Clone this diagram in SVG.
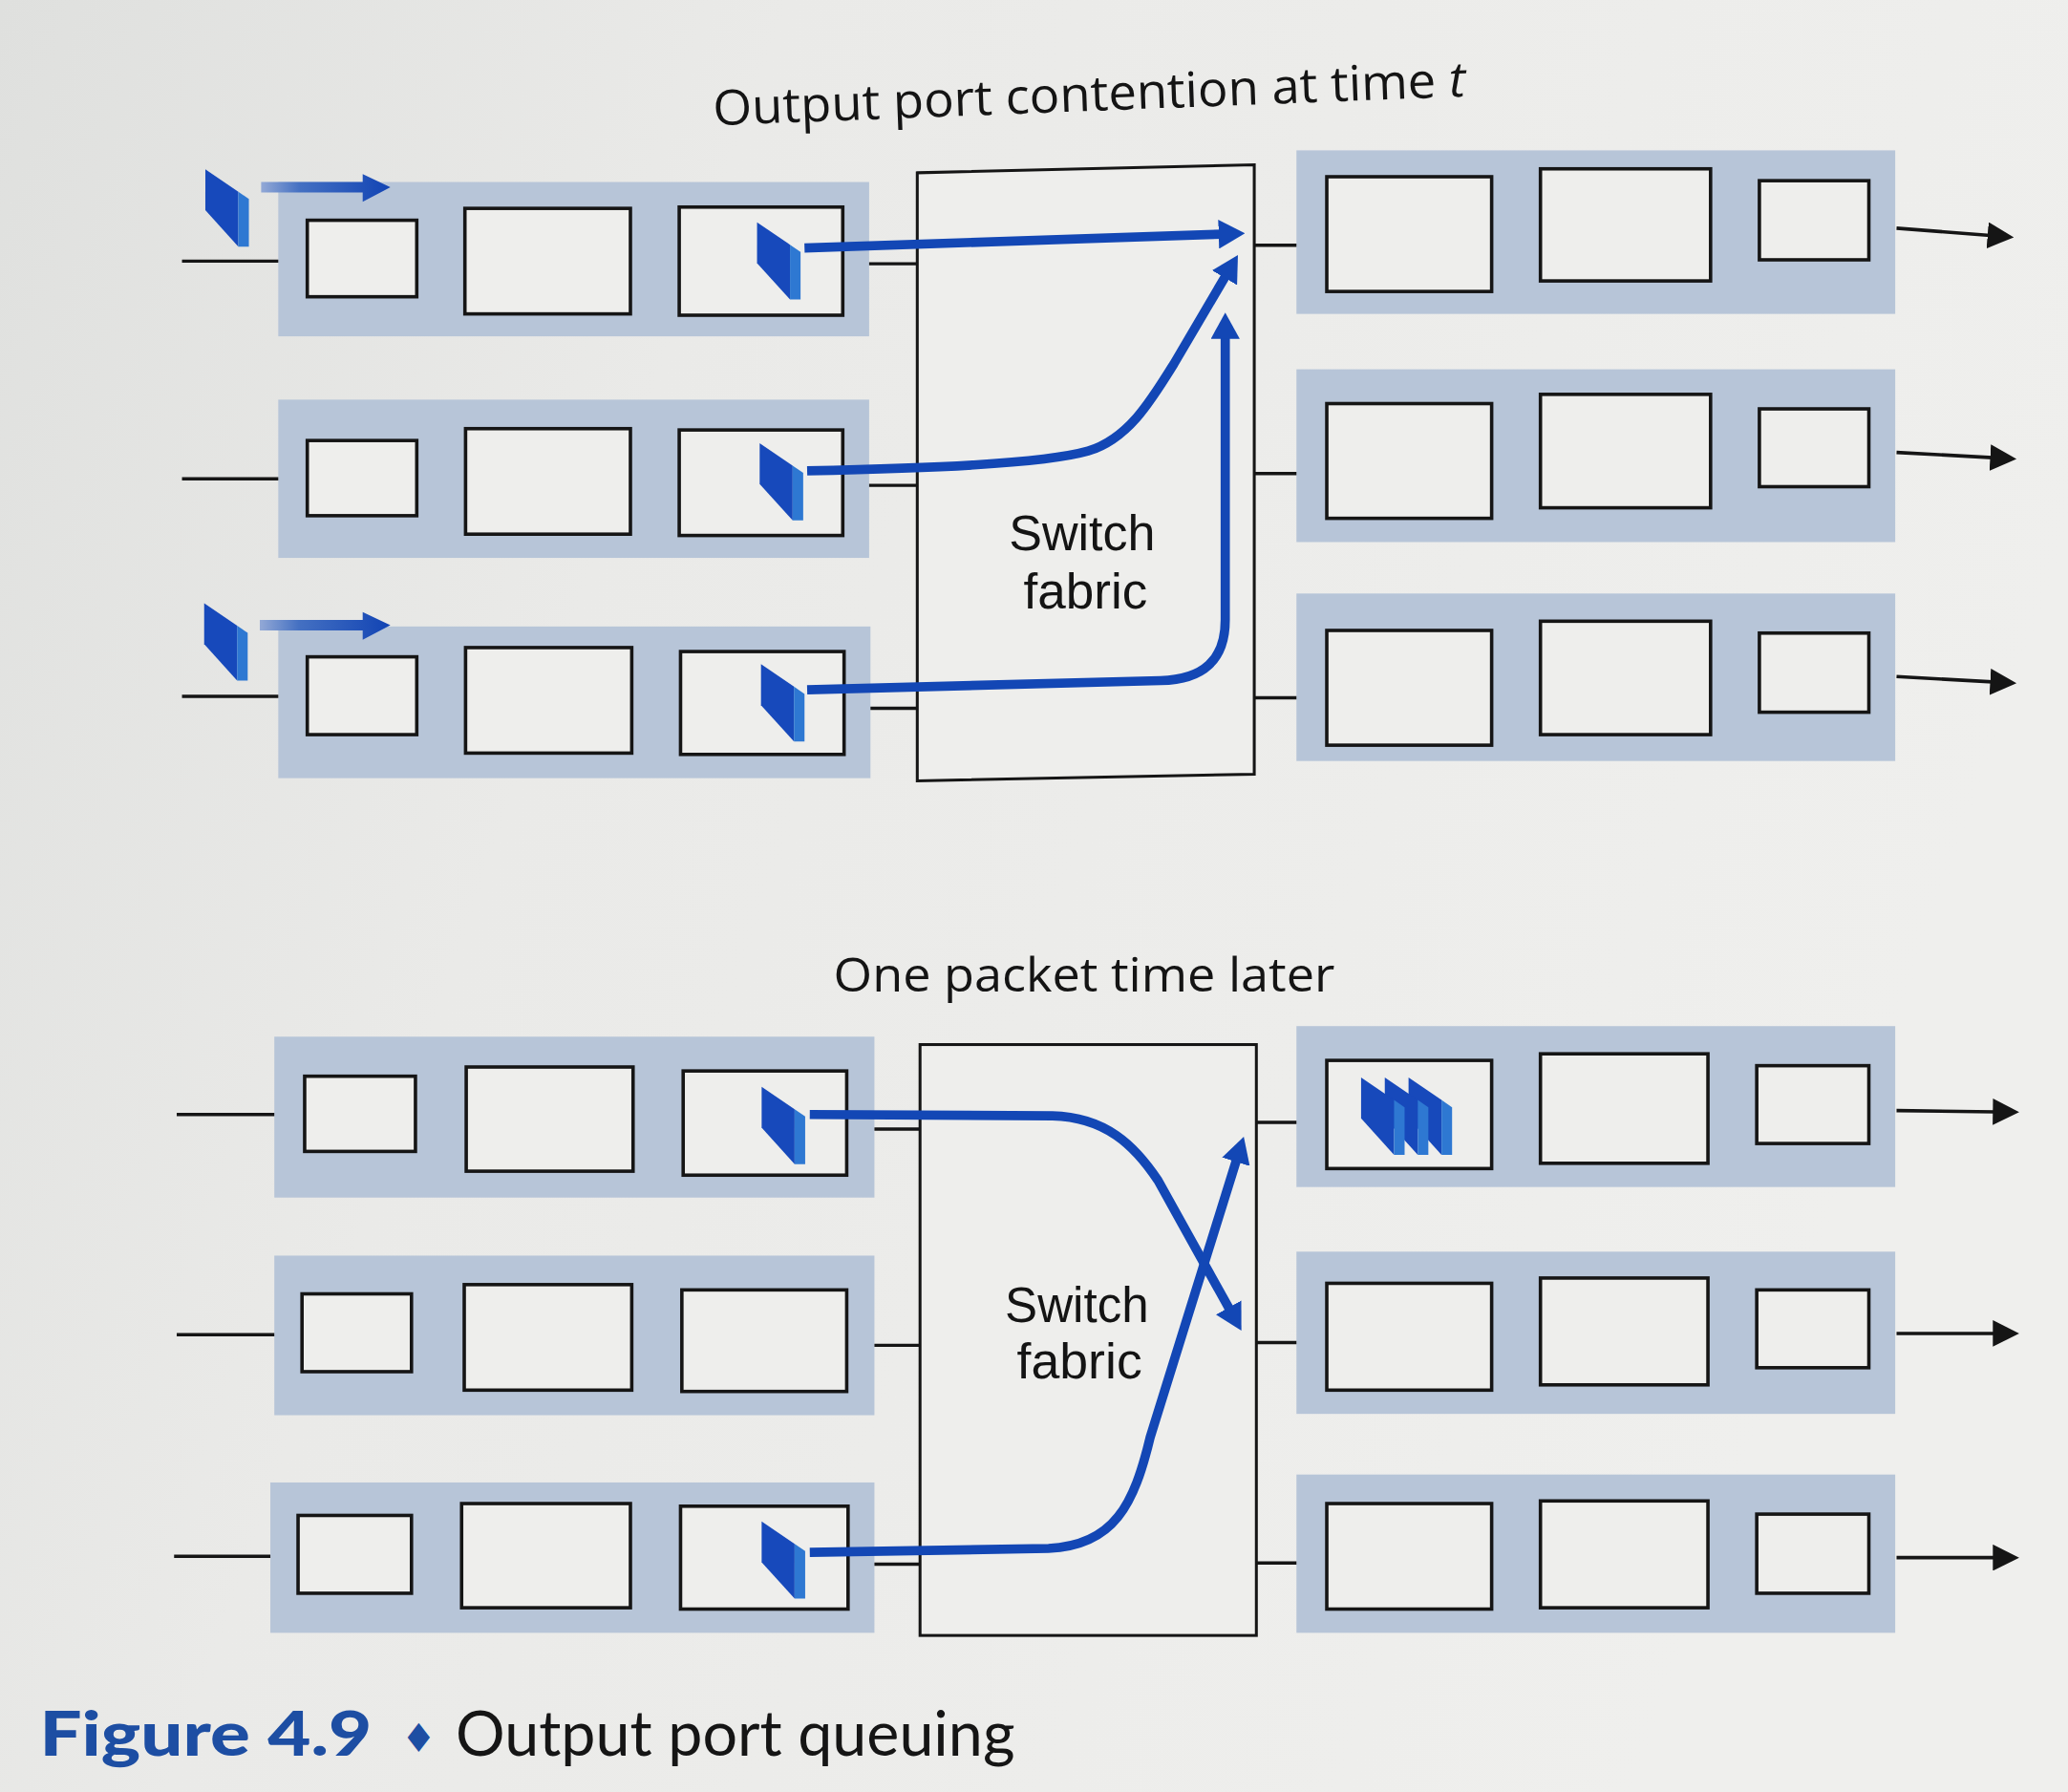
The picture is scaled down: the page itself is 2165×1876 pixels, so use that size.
<svg xmlns="http://www.w3.org/2000/svg" xmlns:xlink="http://www.w3.org/1999/xlink" width="2165" height="1876" viewBox="0 0 2165 1876">
<defs>
<style>
.band{fill:#b7c5d8}
.box{fill:#eeeeec;stroke:#151515;stroke-width:2.6}
.fab{fill:#eeeeec;stroke:#151515;stroke-width:2.2}
.wire{stroke:#151515;stroke-width:2.5;fill:none}
.out{stroke:#151515;stroke-width:2.6;fill:none;marker-end:url(#kh)}
.flow{stroke:#1347b5;stroke-width:7;fill:none;marker-end:url(#bh)}
.lbl{font-family:"Open Sans","Noto Sans","DejaVu Sans",sans-serif;font-weight:500;fill:#141414}
.sf{font-family:"Liberation Sans",Arial,sans-serif;fill:#141414}
.cap{font-family:Lato,"Liberation Sans",sans-serif}
</style>
<linearGradient id="bg" x1="0" y1="0" x2="1" y2="0.3">
<stop offset="0" stop-color="#dfe0de"/>
<stop offset="0.35" stop-color="#eaeae8"/>
<stop offset="1" stop-color="#efefed"/>
</linearGradient>
<linearGradient id="ga" x1="0" y1="0" x2="1" y2="0">
<stop offset="0" stop-color="#93a9d6"/>
<stop offset="0.3" stop-color="#4470c2"/>
<stop offset="1" stop-color="#1244b4"/>
</linearGradient>
<marker id="bh" markerUnits="userSpaceOnUse" markerWidth="20" markerHeight="22" viewBox="0 0 20 22" refX="3" refY="11" orient="auto">
<path d="M0,0 L20,11 L0,22 Z" fill="#1347b5"/>
</marker>
<marker id="kh" markerUnits="userSpaceOnUse" markerWidth="20" markerHeight="20" viewBox="0 0 20 20" refX="2" refY="10" orient="auto">
<path d="M0,0 L20,10 L0,20 Z" fill="#151515"/>
</marker>
<g id="pkt">
<path d="M0,0 L25,17 L25,58.6 L0,31 Z" fill="#1749bb"/>
<path d="M25,17 L33,22.5 L33,58.6 L25,58.6 Z" fill="#2e78d2"/>
</g>
</defs>
<rect x="0" y="0" width="2165" height="1876" fill="url(#bg)"/>
<g transform="scale(1.38074)">
<text class="lbl" x="541" y="95" font-size="37" textLength="571" lengthAdjust="spacingAndGlyphs" transform="rotate(-2.2 541 95)">Output port contention at time <tspan font-style="italic">t</tspan></text>

<g id="in-top-1">
<rect class="band" x="211" y="138" width="448" height="117"/>
<rect class="box" x="233" y="167" width="83" height="58"/>
<rect class="box" x="352.5" y="158" width="125.5" height="80"/>
<rect class="box" x="515" y="157" width="124" height="82"/>
<use xlink:href="#pkt" x="574" y="168.5"/>
<use xlink:href="#pkt" x="155.7" y="128.4"/>
</g>
<g id="in-top-2">
<rect class="band" x="211" y="303" width="448" height="120"/>
<rect class="box" x="233" y="334" width="83" height="57"/>
<rect class="box" x="353" y="325" width="125" height="80"/>
<rect class="box" x="515" y="326" width="124" height="80"/>
<use xlink:href="#pkt" x="576" y="336"/>
</g>
<g id="in-top-3">
<rect class="band" x="211" y="475" width="449" height="115"/>
<rect class="box" x="233" y="498" width="83" height="59"/>
<rect class="box" x="353" y="491" width="126" height="80"/>
<rect class="box" x="516" y="494" width="124" height="78"/>
<use xlink:href="#pkt" x="577" y="503.6"/>
<use xlink:href="#pkt" x="154.8" y="457.4"/>
</g>
<g id="fabric-top">
<polygon class="fab" points="695.5,131 951,125 951,587 695.5,592"/>
<text class="sf" x="765" y="417" font-size="38" textLength="111" lengthAdjust="spacingAndGlyphs">Switch</text>
<text class="sf" x="776" y="461" font-size="38" textLength="94" lengthAdjust="spacingAndGlyphs">fabric</text>
</g>
<g id="out-top-1">
<rect class="band" x="983" y="114" width="454" height="124"/>
<rect class="box" x="1006" y="134" width="125" height="87"/>
<rect class="box" x="1168" y="128" width="129" height="85"/>
<rect class="box" x="1334" y="137" width="83" height="60"/>
</g>
<g id="out-top-2">
<rect class="band" x="983" y="280" width="454" height="131"/>
<rect class="box" x="1006" y="306" width="125" height="87"/>
<rect class="box" x="1168" y="299" width="129" height="86"/>
<rect class="box" x="1334" y="310" width="83" height="59"/>
</g>
<g id="out-top-3">
<rect class="band" x="983" y="450" width="454" height="127"/>
<rect class="box" x="1006" y="478" width="125" height="87"/>
<rect class="box" x="1168" y="471" width="129" height="86"/>
<rect class="box" x="1334" y="480" width="83" height="60"/>
</g>

<text class="lbl" x="632" y="752" font-size="36" textLength="380" lengthAdjust="spacingAndGlyphs">One packet time later</text>

<g id="in-bot-1">
<rect class="band" x="208" y="786" width="455" height="122"/>
<rect class="box" x="231" y="816" width="84" height="57"/>
<rect class="box" x="353.5" y="809" width="126.5" height="79"/>
<rect class="box" x="518" y="812" width="124" height="79"/>
<use xlink:href="#pkt" x="577.5" y="824"/>
</g>
<g id="in-bot-2">
<rect class="band" x="208" y="952" width="455" height="121"/>
<rect class="box" x="229" y="981" width="83" height="59"/>
<rect class="box" x="352" y="974" width="127" height="80"/>
<rect class="box" x="517" y="978" width="125" height="77"/>
</g>
<g id="in-bot-3">
<rect class="band" x="205" y="1124" width="458" height="114"/>
<rect class="box" x="226" y="1149" width="86" height="59"/>
<rect class="box" x="350" y="1140" width="128" height="79"/>
<rect class="box" x="516" y="1142" width="127" height="78"/>
<use xlink:href="#pkt" x="577.5" y="1153.5"/>
</g>
<g id="fabric-bot">
<rect class="fab" x="697.6" y="792" width="255" height="448"/>
<text class="sf" x="762" y="1002" font-size="38" textLength="109" lengthAdjust="spacingAndGlyphs">Switch</text>
<text class="sf" x="771" y="1045" font-size="38" textLength="95" lengthAdjust="spacingAndGlyphs">fabric</text>
</g>
<g id="out-bot-1">
<rect class="band" x="983" y="778" width="454" height="122"/>
<rect class="box" x="1006" y="804" width="125" height="82"/>
<rect class="box" x="1168" y="799" width="127" height="83"/>
<rect class="box" x="1332" y="808" width="85" height="59"/>
<use xlink:href="#pkt" x="1068" y="817"/>
<use xlink:href="#pkt" x="1050" y="817"/>
<use xlink:href="#pkt" x="1032" y="817"/>
</g>
<g id="out-bot-2">
<rect class="band" x="983" y="949" width="454" height="123"/>
<rect class="box" x="1006" y="973" width="125" height="81"/>
<rect class="box" x="1168" y="969" width="127" height="81"/>
<rect class="box" x="1332" y="978" width="85" height="59"/>
</g>
<g id="out-bot-3">
<rect class="band" x="983" y="1118" width="454" height="120"/>
<rect class="box" x="1006" y="1140" width="125" height="80"/>
<rect class="box" x="1168" y="1138" width="127" height="81"/>
<rect class="box" x="1332" y="1148" width="85" height="60"/>
</g>

<g id="connectors">
<path class="wire" d="M138,198 H211 M138,363 H211 M138,528 H211 M134,845 H208 M134,1012 H208 M132,1180 H205"/>
<path class="wire" d="M659,200 H695.5 M659,368 H695.5 M660,537 H695.5 M663,856 H697.6 M663,1020 H697.6 M663,1186 H697.6"/>
<path class="wire" d="M951,186 H983 M951,359 H983 M951,529 H983 M952.6,851 H983 M952.6,1018 H983 M952.6,1185 H983"/>
<path class="out" d="M1438,173 L1509,178.5"/>
<path class="out" d="M1438,343 L1511,347"/>
<path class="out" d="M1438,513 L1511,517"/>
<path class="out" d="M1438,842 L1513,843"/>
<path class="out" d="M1438,1011 L1513,1011"/>
<path class="out" d="M1438,1181 L1513,1181"/>
<path d="M198,138 H275 V132 L296,142 L275,153 V146 H198 Z" fill="url(#ga)"/>
<path d="M197,470 H275 V464 L296,474 L275,485 V478 H197 Z" fill="url(#ga)"/>
<path class="flow" d="M610,188 L927,177.5"/>
<path class="flow" d="M612,357 C700,355 790,352 825,342 C855,333 872,305 890,276 L930,208"/>
<path class="flow" d="M612,523 L880,516 Q929,515 929,470 L929,254"/>
<path class="flow" d="M614,845 L798,846 C838,847 860,868 878,895 L933,994"/>
<path class="flow" d="M614,1177 L795,1174 C845,1172 860,1140 872,1090 L938,878"/>
</g>

<text class="cap" x="30" y="1331" font-size="47" font-weight="900" fill="#1d4ea3" textLength="252" lengthAdjust="spacingAndGlyphs">Figure 4.9</text>
<text x="304" y="1328" font-family="DejaVu Sans,sans-serif" font-size="30" fill="#1d4ea3">♦</text>
<text class="cap" x="345.5" y="1331" font-size="47" fill="#151515" textLength="424" lengthAdjust="spacingAndGlyphs">Output port queuing</text>
</g>
</svg>
